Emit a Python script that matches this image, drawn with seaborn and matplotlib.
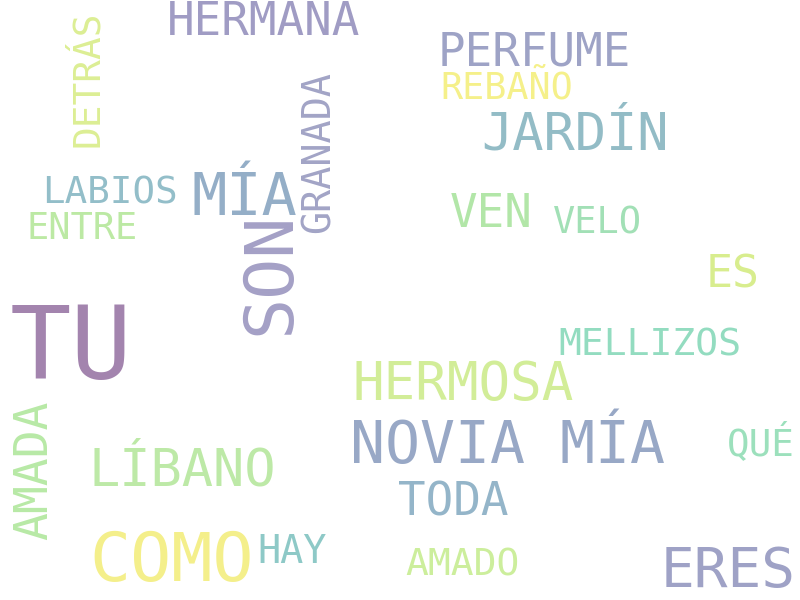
import matplotlib
matplotlib.use("Agg")
import matplotlib.pyplot as plt
import seaborn as sns

# words of the cloud and their relative weight (biggest word = 1.0)
words = ["TU", "SON", "COMO", "MÍA", "NOVIA MÍA", "ERES", "HERMOSA",
         "JARDÍN", "LÍBANO", "HERMANA", "PERFUME", "VEN", "AMADA", "TODA",
         "ES", "GRANADA", "MELLIZOS", "HAY", "AMADO", "LABIOS", "QUÉ",
         "VELO", "DETRÁS", "ENTRE", "REBAÑO"]
weights = [1.0, 0.67, 0.67, 0.575, 0.57, 0.55, 0.515,
           0.51, 0.51, 0.45, 0.45, 0.45, 0.455, 0.45,
           0.44, 0.378, 0.373, 0.378, 0.373, 0.368, 0.368,
           0.363, 0.37, 0.363, 0.36]

# layout: x, y in pixels (centre/baseline), vertical words turned 90 deg
layout = {
    "TU": (71.5, 379, 0), "SON": (289, 273, 90), "COMO": (172, 581, 0),
    "MÍA": (244.5, 215, 0), "NOVIA MÍA": (507.5, 463.5, 0),
    "ERES": (728, 587, 0), "HERMOSA": (463.5, 400, 0),
    "JARDÍN": (575, 149, 0), "LÍBANO": (182.5, 485, 0),
    "HERMANA": (263.5, 35, 0), "PERFUME": (534.5, 65.5, 0),
    "VEN": (491.5, 227, 0), "AMADA": (47, 470.5, 90), "TODA": (453, 516, 0),
    "ES": (732.5, 288, 0), "GRANADA": (330, 152.5, 90),
    "MELLIZOS": (650, 355, 0), "HAY": (292, 563, 0), "AMADO": (462.5, 576, 0),
    "LABIOS": (109.5, 204, 0), "QUÉ": (760.5, 455, 0), "VELO": (597.5, 233, 0),
    "DETRÁS": (98, 79, 90), "ENTRE": (82.5, 239, 0), "REBAÑO": (507, 98.5, 0),
}

colors = {
    "TU": "#a384ae", "SON": "#a4a0c6", "COMO": "#f4ef8b", "MÍA": "#94aec7",
    "NOVIA MÍA": "#98a8c6", "ERES": "#9fa2c6", "HERMOSA": "#d2ed98",
    "JARDÍN": "#93bcc6", "LÍBANO": "#bde9a7", "HERMANA": "#a09cc4",
    "PERFUME": "#9ea3c6", "VEN": "#b2e6a8", "AMADA": "#b8e9a6",
    "TODA": "#94b5c9", "ES": "#d8ed8e", "GRANADA": "#a2a4c6",
    "MELLIZOS": "#93dcc0", "HAY": "#8ec9c7", "AMADO": "#ccee9c",
    "LABIOS": "#93bec9", "QUÉ": "#9ce0bc", "VELO": "#a2e0b6",
    "DETRÁS": "#dcee94", "ENTRE": "#bce9a4", "REBAÑO": "#f5f08a",
}

sns.set_theme(style="white")
plt.rcParams["font.family"] = ["DejaVu Sans Mono", "DejaVu Sans"]

fig = plt.figure(figsize=(8, 6), dpi=100)
ax = fig.add_axes([0, 0, 1, 1])
ax.set_xlim(0, 800)
ax.set_ylim(600, 0)
ax.axis("off")

max_em = 102  # em size in pixels of the biggest word
for w, wt in zip(words, weights):
    x, y, rot = layout[w]
    size = wt * max_em * 72 / 100
    ax.text(x, y, w, fontsize=size, color=colors[w], rotation=rot,
            rotation_mode="anchor", ha="center", va="baseline")

plt.savefig("out.png", dpi=100, facecolor="white")
